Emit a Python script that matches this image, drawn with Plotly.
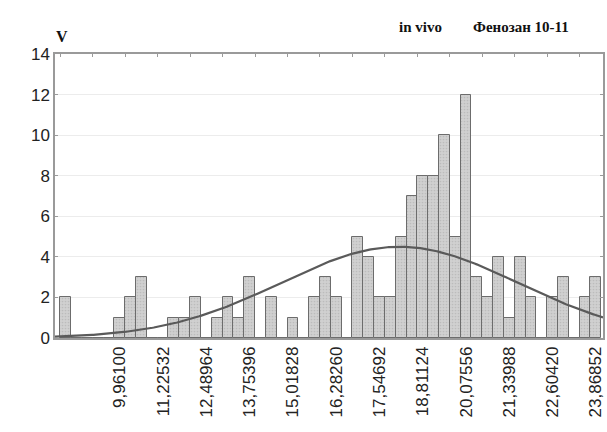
import numpy as np
import plotly.graph_objects as go

# Histogram bins: first bin centre and constant bin width
bin_first_center = 8.38060
bin_width = 0.31608

# Frequency per bin, from left to right
counts = [2, 0, 0, 0, 0,
          1, 2, 3, 0, 0, 1, 1, 2, 0, 1,
          2, 1, 3, 0, 2, 0, 1, 0, 2, 3,
          2, 0, 5, 4, 2, 2, 5, 7, 8, 8,
          10, 5, 12, 3, 2, 4, 1, 4, 2, 0,
          2, 3, 0, 2, 3]

tick_values = [9.96100, 11.22532, 12.48964, 13.75396, 15.01828, 16.28260,
               17.54692, 18.81124, 20.07556, 21.33988, 22.60420, 23.86852]
tick_labels = ["9,96100", "11,22532", "12,48964", "13,75396", "15,01828", "16,28260",
               "17,54692", "18,81124", "20,07556", "21,33988", "22,60420", "23,86852"]

y_ticks = [0, 2, 4, 6, 8, 10, 12, 14]
x_range = [8.068, 24.076]

counts_arr = np.array(counts, dtype=float)
centers = bin_first_center + bin_width * np.arange(len(counts))

# Fitted normal curve (expected frequencies per bin)
n_total = counts_arr.sum()
mu = (centers * counts_arr).sum() / n_total
sigma = np.sqrt(((centers - mu) ** 2 * counts_arr).sum() / (n_total - 1))
xs = np.linspace(x_range[0], x_range[1], 400)
ys = n_total * bin_width / (sigma * np.sqrt(2 * np.pi)) * np.exp(-0.5 * ((xs - mu) / sigma) ** 2)

fig = go.Figure()
fig.add_trace(go.Bar(
    x=centers, y=counts_arr, width=bin_width,
    marker=dict(color="#cdcdcd",
                line=dict(color="#6c6c6c", width=1),
                pattern=dict(shape=".", fgcolor="#a8a8a8", bgcolor="#d0d0d0",
                             size=3, solidity=0.25)),
    showlegend=False, hoverinfo="x+y",
))
fig.add_trace(go.Scatter(
    x=xs, y=ys, mode="lines",
    line=dict(color="#5a5a5a", width=2.2),
    showlegend=False, hoverinfo="skip",
))

# Minor ticks along the top frame, every three bins
top_ticks = list(bin_first_center - bin_width / 2 + 3 * bin_width * np.arange(0, 18))
fig.add_trace(go.Scatter(x=[x_range[0]], y=[0], xaxis="x2", mode="markers",
                         marker=dict(opacity=0), showlegend=False, hoverinfo="skip"))

fig.update_layout(
    width=607, height=432,
    margin=dict(l=55, r=2, t=54, b=94),
    paper_bgcolor="white", plot_bgcolor="white",
    bargap=0,
    font=dict(family="Liberation Sans, Arial, sans-serif", color="#222222"),
    xaxis=dict(
        range=x_range, tickmode="array", tickvals=tick_values, ticktext=tick_labels,
        tickangle=-90, tickfont=dict(size=17, color="#222222"),
        showgrid=False, zeroline=False,
        showline=True, linecolor="#9a9a9a", linewidth=1.5, mirror=True,
        ticks="", ticklen=0,
    ),
    xaxis2=dict(
        range=x_range, overlaying="x", side="top", tickmode="array",
        tickvals=top_ticks, showticklabels=False, ticks="inside", ticklen=3,
        tickcolor="#9a9a9a", showgrid=False, zeroline=False, showline=False,
    ),
    yaxis=dict(
        range=[0, 14], tickvals=y_ticks, tickfont=dict(size=17, color="#222222"),
        showgrid=True, gridcolor="#ececec", gridwidth=1, zeroline=False,
        showline=True, linecolor="#9a9a9a", linewidth=1.5, mirror="ticks",
        ticks="inside", ticklen=3, tickcolor="#9a9a9a",
    ),
    annotations=[
        dict(text="<b>V</b>", x=62, y=432 - 37, showarrow=False,
             font=dict(family="Liberation Serif, Times New Roman, serif",
                       size=16, color="#111111")),
        dict(text="<b>in vivo</b>", x=422, y=432 - 27, showarrow=False,
             font=dict(family="Liberation Serif, Times New Roman, serif", size=15, color="#111111")),
        dict(text="<b>Фенозан 10-11</b>", x=523, y=432 - 27, showarrow=False,
             font=dict(family="Liberation Serif, Times New Roman, serif", size=15, color="#111111")),
    ],
)

# Place the header texts in pixel coordinates of the page
for ann in fig.layout.annotations:
    ann.xref = "paper"
    ann.yref = "paper"
    ann.x = (ann.x - 55) / (607 - 55 - 2)
    ann.y = (ann.y - 94) / (432 - 54 - 94)
    ann.xanchor = "center"
    ann.yanchor = "middle"

fig.write_html("out.html")
